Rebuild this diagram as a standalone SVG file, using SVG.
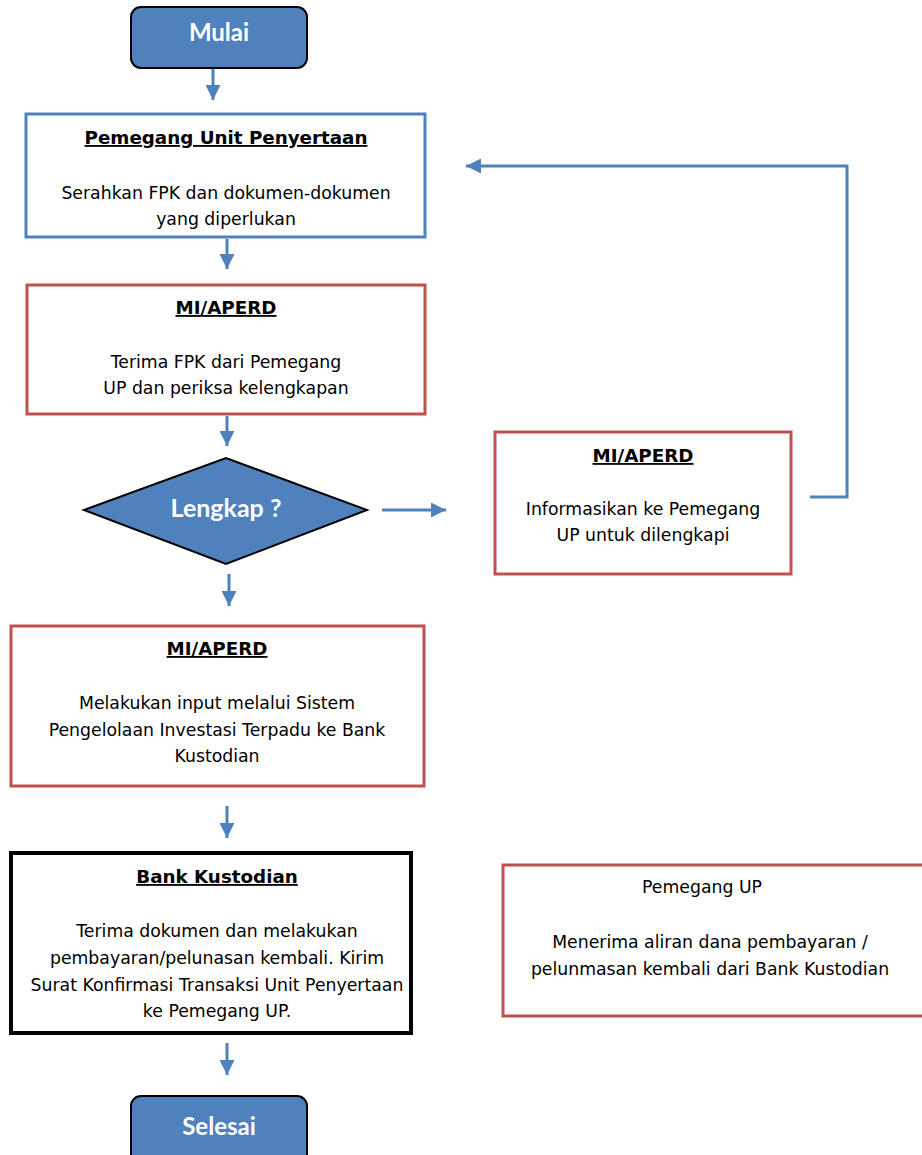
<svg xmlns="http://www.w3.org/2000/svg" width="922" height="1155" viewBox="0 0 922 1155">
<style>
.term{fill:#4F81BD;stroke:#000;stroke-width:2}
.tt{font-family:"Lato","Open Sans",sans-serif;font-weight:bold;font-size:24px;fill:#fff;text-anchor:middle}
.box{fill:#fff;stroke-width:3}
.blue{stroke:#4F81BD}
.red{stroke:#C0504D}
.blk{stroke:#000;stroke-width:4}
.h{font-family:"DejaVu Sans",sans-serif;font-weight:bold;font-size:18.3px;fill:#000;text-anchor:middle;text-decoration:underline}
.b{font-family:"DejaVu Sans",sans-serif;font-size:17.3px;fill:#000;text-anchor:middle}
.c{fill:none;stroke:#4F81BD;stroke-width:3}
</style>
<defs>
<marker id="ah" viewBox="0 0 10 10" refX="10" refY="5" markerWidth="5" markerHeight="5" orient="auto" markerUnits="strokeWidth">
<path d="M0,0 L10,5 L0,10 z" fill="#4F81BD"/>
</marker>
</defs>
<g id="connectors">
<line class="c" x1="213" y1="69" x2="213" y2="100" marker-end="url(#ah)"/>
<line class="c" x1="227" y1="239" x2="227" y2="269" marker-end="url(#ah)"/>
<line class="c" x1="227" y1="416" x2="227" y2="446" marker-end="url(#ah)"/>
<line class="c" x1="382" y1="510" x2="446" y2="510" marker-end="url(#ah)"/>
<polyline class="c" points="810,497 847,497 847,166 466,166" marker-end="url(#ah)"/>
<line class="c" x1="229" y1="574" x2="229" y2="606" marker-end="url(#ah)"/>
<line class="c" x1="227" y1="806" x2="227" y2="838" marker-end="url(#ah)"/>
<line class="c" x1="227" y1="1043" x2="227" y2="1075" marker-end="url(#ah)"/>
</g>
<g id="mulai">
<rect class="term" x="131" y="7" width="176" height="61" rx="10"/>
<text class="tt" x="219" y="41">Mulai</text>
</g>
<g id="pemegang">
<rect class="box blue" x="26" y="114" width="399" height="123"/>
<text class="h" x="226" y="144">Pemegang Unit Penyertaan</text>
<text class="b" x="226" y="199">Serahkan FPK dan dokumen-dokumen</text>
<text class="b" x="226" y="225">yang diperlukan</text>
</g>
<g id="mi1">
<rect class="box red" x="27" y="285" width="398" height="129"/>
<text class="h" x="226" y="314">MI/APERD</text>
<text class="b" x="226" y="368">Terima FPK dari Pemegang</text>
<text class="b" x="226" y="394">UP dan periksa kelengkapan</text>
</g>
<g id="lengkap">
<polygon points="84,510 226,458 367,510 226,564" fill="#4F81BD" stroke="#000" stroke-width="2"/>
<text class="tt" x="226" y="517" style="font-size:25px">Lengkap ?</text>
</g>
<g id="mi2">
<rect class="box red" x="495" y="432" width="296" height="142"/>
<text class="h" x="643" y="462">MI/APERD</text>
<text class="b" x="643" y="515">Informasikan ke Pemegang</text>
<text class="b" x="643" y="541">UP untuk dilengkapi</text>
</g>
<g id="mi3">
<rect class="box red" x="11" y="626" width="413" height="160"/>
<text class="h" x="217" y="655">MI/APERD</text>
<text class="b" x="217" y="709">Melakukan input melalui Sistem</text>
<text class="b" x="217" y="736">Pengelolaan Investasi Terpadu  ke Bank</text>
<text class="b" x="217" y="762">Kustodian</text>
</g>
<g id="bank">
<rect class="box blk" x="11" y="853" width="400" height="180"/>
<text class="h" x="217" y="883">Bank Kustodian</text>
<text class="b" x="217" y="937">Terima dokumen dan melakukan</text>
<text class="b" x="217" y="964">pembayaran/pelunasan kembali. Kirim</text>
<text class="b" x="217" y="991">Surat Konfirmasi Transaksi Unit Penyertaan</text>
<text class="b" x="217" y="1017">ke Pemegang UP.</text>
</g>
<g id="pemegangup">
<rect class="box red" x="503" y="865" width="422" height="151"/>
<text class="b" x="702" y="893">Pemegang UP</text>
<text class="b" x="710" y="948">Menerima aliran dana pembayaran /</text>
<text class="b" x="710" y="975">pelunmasan kembali dari Bank Kustodian</text>
</g>
<g id="selesai">
<rect class="term" x="131" y="1096" width="176" height="70" rx="10"/>
<text class="tt" x="219" y="1135">Selesai</text>
</g>
</svg>
